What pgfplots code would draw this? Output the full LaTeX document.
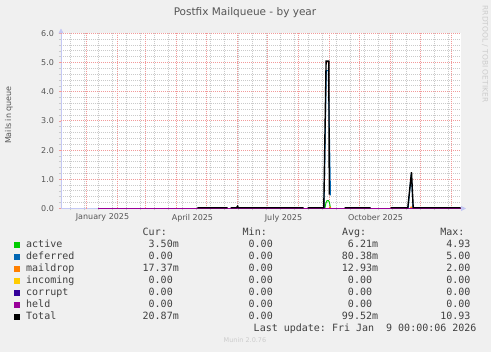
\documentclass[border=0pt]{standalone}
\usepackage{pgfplots}
\pgfplotsset{compat=1.18}
\usepackage{fontspec}
\setmainfont{DejaVu Sans}
\setmonofont{DejaVu Sans Mono}
\usetikzlibrary{arrows.meta}
\definecolor{bg}{HTML}{F0F0F0}
\definecolor{mgrid}{HTML}{F29A9A}
\definecolor{ggrid}{HTML}{CACACA}
\definecolor{axiscol}{HTML}{C4C8F4}
\definecolor{txt}{HTML}{555555}
\definecolor{ltxt}{HTML}{404040}
\definecolor{faint}{HTML}{CCCCCC}
\definecolor{cactive}{HTML}{00CC00}
\definecolor{cdeferred}{HTML}{0066B3}
\definecolor{cmaildrop}{HTML}{FF8000}
\definecolor{cincoming}{HTML}{FFCC00}
\definecolor{ccorrupt}{HTML}{330099}
\definecolor{cheld}{HTML}{990099}
\definecolor{ctotal}{HTML}{000000}
\newcommand\lfont{\ttfamily\fontsize{10}{12}\selectfont}
\newcommand\z{\hphantom{m}}
\newcommand\lrow[7]{%
  \node[anchor=base west,inner sep=0pt] at (14pt,#1pt) {\color{#2}\rule{6pt}{6pt}};
  \node[anchor=base west,inner sep=0pt,text=ltxt] at (26pt,#1pt) {\lfont #3};
  \node[anchor=base east,inner sep=0pt,text=ltxt] at (179pt,#1pt) {\lfont #4};
  \node[anchor=base east,inner sep=0pt,text=ltxt] at (279pt,#1pt) {\lfont #5};
  \node[anchor=base east,inner sep=0pt,text=ltxt] at (378.3pt,#1pt) {\lfont #6};
  \node[anchor=base east,inner sep=0pt,text=ltxt] at (476.7pt,#1pt) {\lfont #7};
}
\begin{document}
\begin{tikzpicture}
\fill[bg] (0pt,0pt) rectangle (491pt,352pt);
\useasboundingbox (0pt,0pt) rectangle (491pt,352pt);
\begin{axis}[
  at={(61pt,143.5pt)}, anchor=south west,
  scale only axis, width=400pt, height=175pt,
  xmin=-25.5, xmax=374.5, ymin=0, ymax=6,
  clip=false,
  unbounded coords=jump,
  axis lines=left,
  axis background/.style={fill=white},
  axis line style={draw=axiscol, line width=0.8pt, -{Triangle[length=5pt,width=5pt]}, shorten >=-5pt},
  xtick={16,106,197,289},
  xticklabels={January 2025,April 2025,July 2025,October 2025},
  major x tick style={draw=none},
  minor xtick={-16,-2,12,26,40,54,68,82,96,110,124,138,152,166,180,194,208,222,236,250,264,278,292,306,320,334,348,362},
  ytick={0,1,2,3,4,5,6},
  minor ytick={0.2,0.4,0.6,0.8,1.2,1.4,1.6,1.8,2.2,2.4,2.6,2.8,3.2,3.4,3.6,3.8,4.2,4.4,4.6,4.8,5.2,5.4,5.6,5.8},
  xminorgrids=true, yminorgrids=true, xmajorgrids=false, ymajorgrids=false,
  minor grid style={draw=ggrid, dash pattern=on 1pt off 1pt, line width=1pt},
  tick align=outside,
  major tick length=2pt, minor tick length=2pt,
  major tick style={draw=mgrid, line width=0.8pt},
  minor tick style={draw=ggrid, line width=0.8pt},
  /pgf/number format/assume math mode=true,
  tick label style={font=\fontsize{8}{9}\selectfont, text=txt},
  y tick label style={xshift=-1.5pt, /pgf/number format/fixed, /pgf/number format/fixed zerofill, /pgf/number format/precision=1},
  ylabel={Mails in queue},
  ylabel style={font=\fontsize{8}{9}\selectfont, text=txt, at={(axis description cs:-0.13,0.534)}, anchor=center},
]
% major grid (month starts, whole units)
\pgfplotsinvokeforeach{0,31,59,90,120,151,181,212,243,273,304,334,365}{
  \draw[draw=mgrid, dash pattern=on 1pt off 1pt, line width=1pt] (axis cs:#1,0) -- ++(0pt,-2pt) (axis cs:#1,0) -- (axis cs:#1,6);
}
\pgfplotsinvokeforeach{1,2,3,4,5,6}{
  \draw[draw=mgrid, dash pattern=on 1pt off 1pt, line width=1pt] (axis cs:-25.5,#1) -- (axis cs:374.5,#1);
}
% active
\addplot[draw=cactive, line width=1pt] coordinates {
 (238.3,0) (239.5,0.2) (240.5,0.27) (242,0.27) (243,0.2) (244,0)
};
% deferred
\addplot[draw=cdeferred, line width=1pt] coordinates {
 (237.5,0) (239.8,4.73) (241.8,4.73) (244,0.45)
};
\addplot[draw=cdeferred, line width=1pt] coordinates {
 (321.6,0) (324.8,1.2) (326.6,0)
};
% maildrop
\addplot[draw=cmaildrop, line width=1pt] coordinates {
 (150,0) (151,0.05) (152,0) (nan,nan) (242.5,0) (243.5,0.05) (244.5,0) (nan,nan) (323.8,0) (324.6,0.05) (325.4,0)
};
% corrupt / held baseline
\addplot[draw=ccorrupt, line width=1pt, yshift=-0.3pt] coordinates {(12,0) (374,0)};
\addplot[draw=cheld, line width=1pt, yshift=-0.4pt] coordinates {(12,0) (374,0)};
% Total
\addplot[draw=ctotal, line width=1.4pt, yshift=0.7pt] coordinates {
 (111,0) (141,0) (nan,nan)
 (144,0) (150,0) (151,0.05) (152,0) (217,0) (nan,nan)
 (221,0) (237.3,0) (239.6,5.03) (242.3,5.03) (242.8,0.45) (nan,nan)
 (258,0) (284,0) (nan,nan)
 (304,0) (321.3,0) (325,1.22) (326.7,0) (374,0)
};
\end{axis}
% title
\node[text=txt, font=\fontsize{10.5}{12}\selectfont, anchor=base] at (245pt,336.5pt) {Postfix Mailqueue - by year};
% legend
\node[anchor=base east,inner sep=0pt,text=ltxt] at (167pt,116pt) {\lfont Cur:};
\node[anchor=base east,inner sep=0pt,text=ltxt] at (267pt,116pt) {\lfont Min:};
\node[anchor=base east,inner sep=0pt,text=ltxt] at (366.3pt,116pt) {\lfont Avg:};
\node[anchor=base east,inner sep=0pt,text=ltxt] at (464.7pt,116pt) {\lfont Max:};
\lrow{104}{cactive}{active}{3.50m}{0.00\z}{6.21m}{4.93\z}
\lrow{92}{cdeferred}{deferred}{0.00\z}{0.00\z}{80.38m}{5.00\z}
\lrow{80}{cmaildrop}{maildrop}{17.37m}{0.00\z}{12.93m}{2.00\z}
\lrow{68}{cincoming}{incoming}{0.00\z}{0.00\z}{0.00\z}{0.00\z}
\lrow{56}{ccorrupt}{corrupt}{0.00\z}{0.00\z}{0.00\z}{0.00\z}
\lrow{44}{cheld}{held}{0.00\z}{0.00\z}{0.00\z}{0.00\z}
\lrow{32}{ctotal}{Total}{20.87m}{0.00\z}{99.52m}{10.93\z}
\node[anchor=base east,inner sep=0pt,text=ltxt] at (476.7pt,20pt) {\lfont Last update:\ Fri Jan\ \ 9 00:00:06 2026};
\node[text=faint, font=\fontsize{6.5}{8}\selectfont, inner sep=0pt] at (245pt,12pt) {Munin 2.0.76};
\node[rotate=-90, text=faint, font=\fontsize{7.5}{9}\selectfont, inner sep=0pt] at (485pt,298pt) {RRDTOOL / TOBI OETIKER};
\end{tikzpicture}
\end{document}
